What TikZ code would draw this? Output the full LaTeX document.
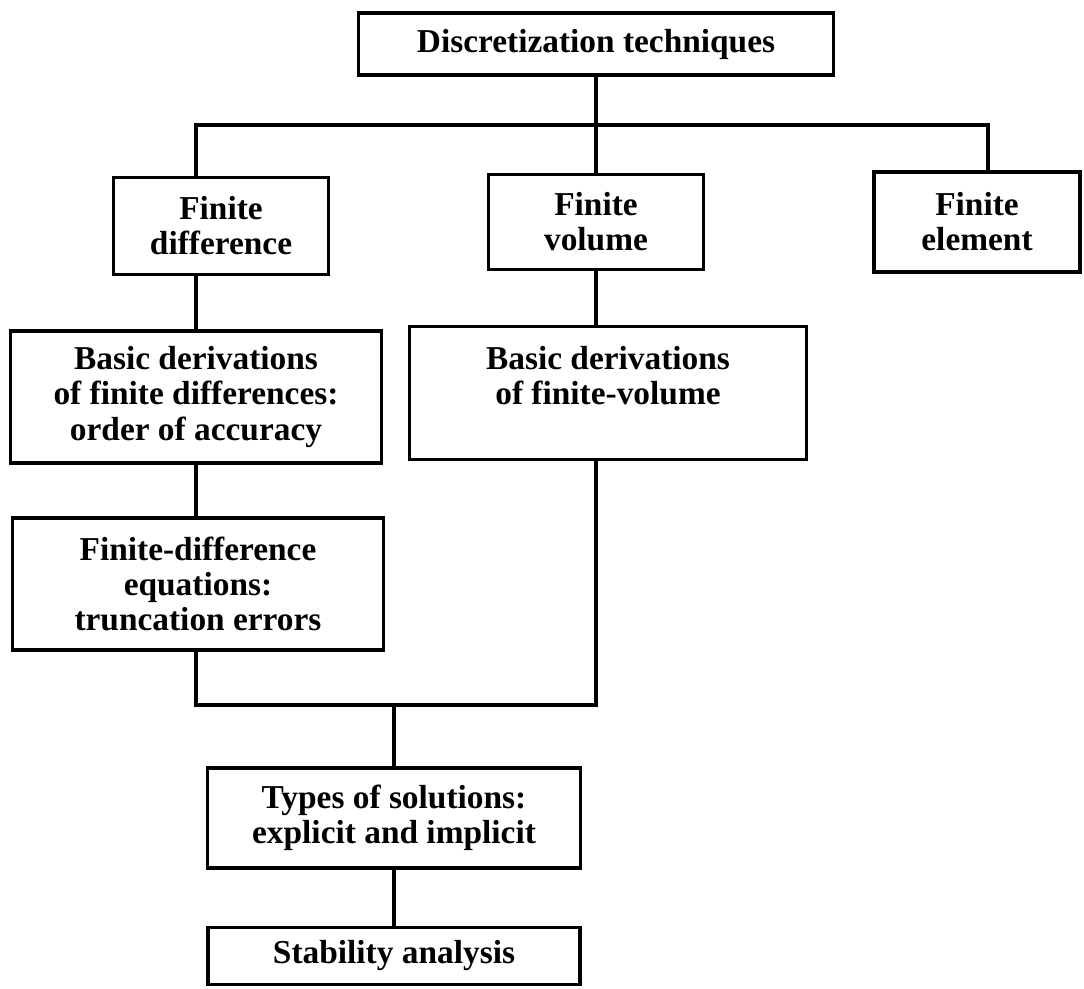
\documentclass[tikz,border=0pt]{standalone}
\usepackage{fontspec}
\setmainfont{Liberation Serif}
\begin{document}
\begin{tikzpicture}[x=0.02cm, y=-0.02cm, line width=1.8pt,
    blk/.style={draw, align=center, inner sep=0pt, font=\fontsize{19}{20}\selectfont\bfseries}]
      \useasboundingbox (0,0) rectangle (1084,989);
      \node[blk, minimum width=9.5cm, minimum height=1.24cm] (top) at (596,44) {Discretization techniques};
      \node[blk, minimum width=4.3cm, minimum height=1.94cm] (fd) at (221,226) {Finite\\difference};
      \node[blk, minimum width=4.3cm, minimum height=1.9cm] (fv) at (596,222) {Finite\\volume};
      \node[blk, minimum width=4.12cm, minimum height=2cm] (fe) at (977,222) {Finite\\element};
      \node[blk, minimum width=7.42cm, minimum height=2.64cm] (fdbasic) at (196,397) {Basic derivations\\of finite differences:\\order of accuracy};
      \node[blk, minimum width=7.94cm, minimum height=2.66cm] (fvbasic) at (608,393) {Basic derivations\\of finite-volume\\\mbox{}};
      \node[blk, minimum width=7.42cm, minimum height=2.64cm] (fdeq) at (198,584) {Finite-difference\\equations:\\truncation errors};
      \node[blk, minimum width=7.46cm, minimum height=2cm] (types) at (394,818) {Types of solutions:\\explicit and implicit};
      \node[blk, minimum width=7.44cm, minimum height=1.14cm] (stab) at (394,956) {Stability analysis};
      \coordinate (bus) at (0,125);
      \coordinate (join) at (394,705);
      \coordinate (fetop) at ([xshift=0.22cm]fe.north);
      % tree lines
      \draw (top.south) -- (fv.north);
      \draw (fdbasic.north |- fd.north) |- (bus -| fetop) -- (fetop);
      \draw (fdbasic.north) -- (fdbasic.north |- fd.south);
      \draw (fv.south) -- (fv.south |- fvbasic.north);
      \draw (fdbasic.south) -- (fdbasic.south |- fdeq.north);
      \draw (fdeq.south -| fdbasic.south) |- (join) -| (fvbasic.south -| fv.south);
      \draw (join) -- (types.north);
      \draw (types.south) -- (stab.north);
\end{tikzpicture}
\end{document}
